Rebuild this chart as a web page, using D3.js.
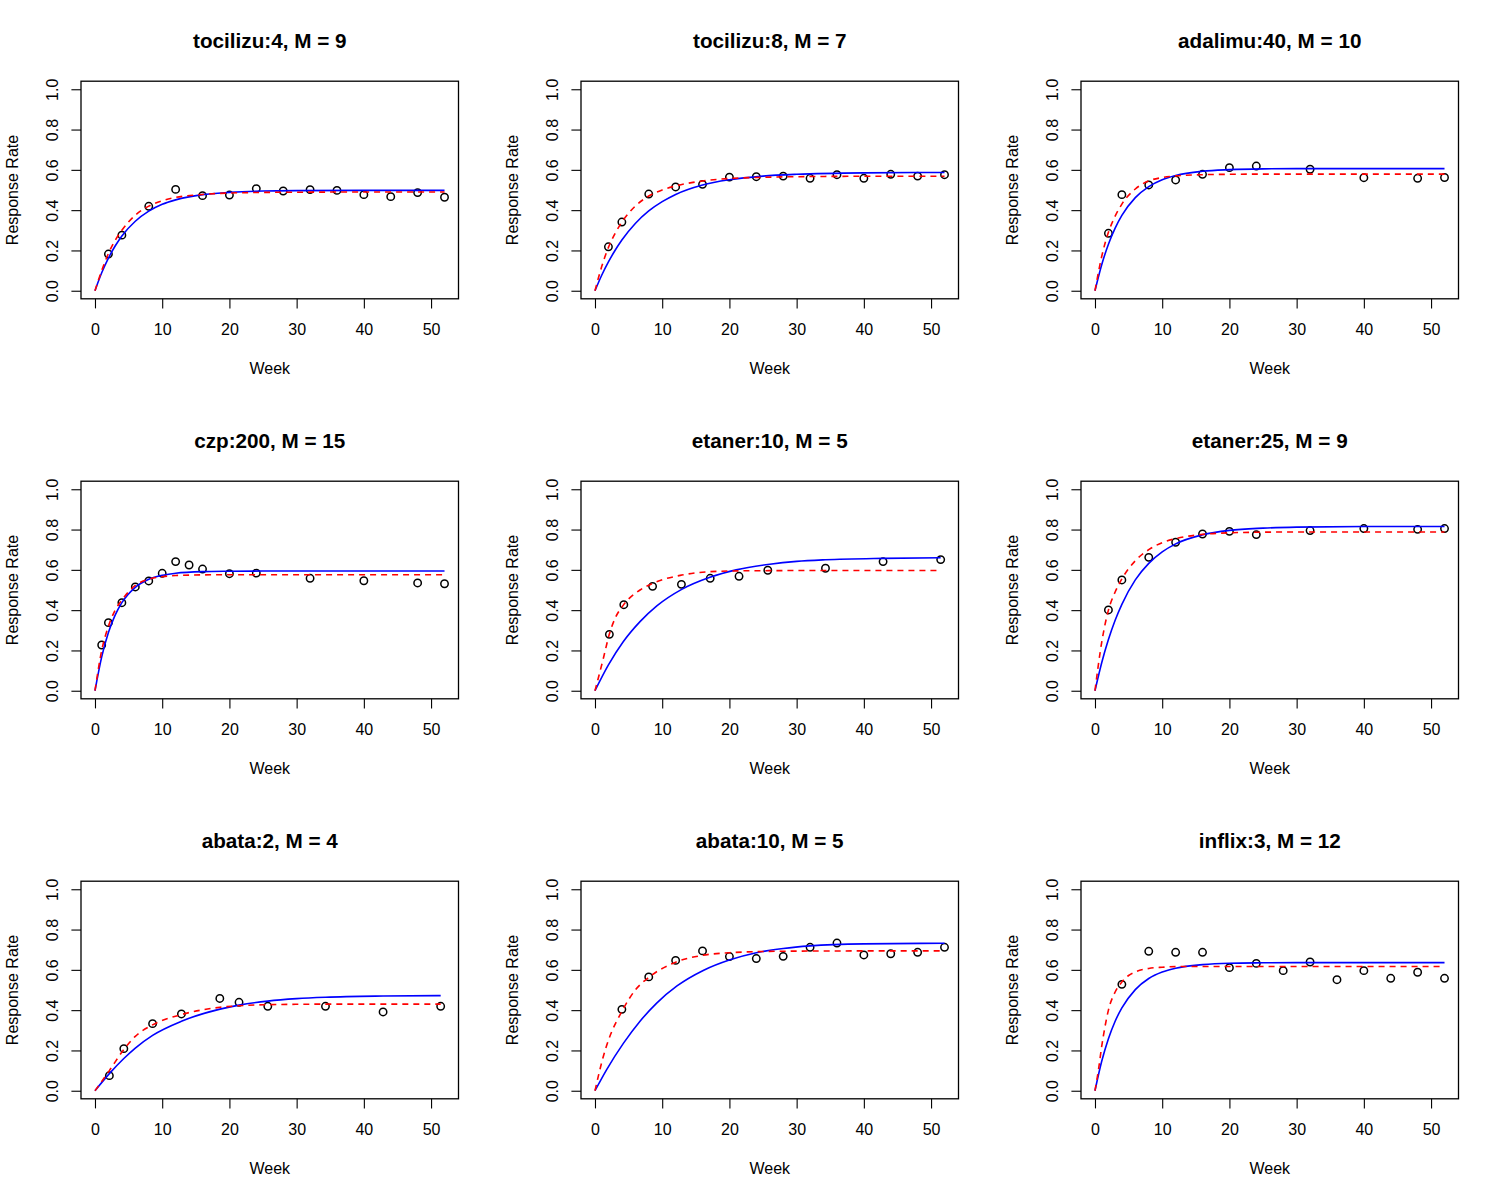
<!DOCTYPE html>
<html>
<head>
<meta charset="utf-8">
<script src="https://cdn.jsdelivr.net/npm/d3@7"></script>
<style>
  html, body { margin: 0; padding: 0; background: #fff; }
  text { font-family: "Liberation Sans", Arial, Helvetica, sans-serif; fill: #000; }
</style>
</head>
<body>
<svg id="chart" width="1500" height="1200"></svg>
<script>
// ---------- DATA ----------
const titles = [
  "tocilizu:4, M = 9", "tocilizu:8, M = 7", "adalimu:40, M = 10",
  "czp:200, M = 15", "etaner:10, M = 5", "etaner:25, M = 9",
  "abata:2, M = 4", "abata:10, M = 5", "inflix:3, M = 12"
];

const xTicks = [0, 10, 20, 30, 40, 50];
const yTicks = [0, 0.2, 0.4, 0.6, 0.8, 1.0];
const xLabel = "Week";
const yLabel = "Response Rate";

// observed response rates
const obsWeeks = [
  [2, 4, 8, 12, 16, 20, 24, 28, 32, 36, 40, 44, 48, 52],
  [2, 4, 8, 12, 16, 20, 24, 28, 32, 36, 40, 44, 48, 52],
  [2, 4, 8, 12, 16, 20, 24, 32, 40, 48, 52],
  [1, 2, 4, 6, 8, 10, 12, 14, 16, 20, 24, 32, 40, 48, 52],
  [2.14, 4.29, 8.57, 12.86, 17.14, 21.43, 25.71, 34.29, 42.86, 51.43],
  [2, 4, 8, 12, 16, 20, 24, 32, 40, 48, 52],
  [2.14, 4.29, 8.57, 12.86, 18.57, 21.43, 25.71, 34.29, 42.86, 51.43],
  [4, 8, 12, 16, 20, 24, 28, 32, 36, 40, 44, 48, 52],
  [4, 8, 12, 16, 20, 24, 28, 32, 36, 40, 44, 48, 52]
];
const obsRates = [
  [0.182, 0.276, 0.419, 0.503, 0.472, 0.475, 0.507, 0.495, 0.502, 0.498, 0.477, 0.467, 0.487, 0.464],
  [0.218, 0.341, 0.480, 0.515, 0.528, 0.564, 0.566, 0.569, 0.558, 0.576, 0.558, 0.578, 0.569, 0.576],
  [0.285, 0.477, 0.525, 0.550, 0.578, 0.611, 0.619, 0.603, 0.561, 0.558, 0.562],
  [0.227, 0.338, 0.437, 0.515, 0.545, 0.583, 0.641, 0.624, 0.604, 0.581, 0.584, 0.558, 0.546, 0.535, 0.531],
  [0.280, 0.427, 0.518, 0.528, 0.558, 0.568, 0.598, 0.608, 0.641, 0.651],
  [0.401, 0.550, 0.662, 0.737, 0.778, 0.791, 0.775, 0.795, 0.805, 0.801, 0.805],
  [0.075, 0.209, 0.333, 0.381, 0.458, 0.439, 0.419, 0.419, 0.391, 0.419],
  [0.404, 0.565, 0.647, 0.694, 0.666, 0.656, 0.667, 0.712, 0.733, 0.674, 0.680, 0.687, 0.712],
  [0.528, 0.692, 0.687, 0.687, 0.611, 0.632, 0.596, 0.639, 0.551, 0.596, 0.558, 0.588, 0.558]
];

// blue (solid) fitted curve
const blueWeeks = [
  [0, 1, 2, 3, 4, 6, 8, 10, 12, 16, 20, 25, 30, 40, 52],
  [0, 1, 2, 3, 4, 6, 8, 10, 12, 16, 20, 25, 30, 40, 52],
  [0, 1, 2, 3, 4, 6, 8, 10, 12, 16, 20, 25, 30, 40, 52],
  [0, 1, 2, 3, 4, 6, 8, 10, 12, 16, 20, 25, 30, 40, 52],
  [0, 2, 4.2, 6.7, 9.2, 12.9, 17.1, 21, 26, 30, 34.3, 42.9, 51.43],
  [0, 1, 2, 3, 4, 6, 8, 10, 12, 16, 20, 25, 30, 40, 52],
  [0, 2.14, 4.29, 6, 8.57, 12.86, 18.6, 21.43, 25.71, 30, 34.29, 42.86, 51.43],
  [0, 1.74, 4.22, 6.7, 9.18, 12.2, 16.1, 20.1, 24, 28, 32, 40, 52],
  [0, 1, 2, 3, 4, 6, 8, 10, 12, 16, 20, 25, 30, 40, 52]
];
const blueRates = [
  [0, 0.089, 0.162, 0.222, 0.272, 0.345, 0.395, 0.429, 0.451, 0.477, 0.488, 0.495, 0.497, 0.498, 0.498],
  [0, 0.077, 0.143, 0.201, 0.252, 0.334, 0.396, 0.442, 0.478, 0.525, 0.551, 0.569, 0.578, 0.585, 0.587],
  [0, 0.129, 0.231, 0.311, 0.374, 0.462, 0.517, 0.551, 0.572, 0.593, 0.601, 0.605, 0.606, 0.606, 0.606],
  [0, 0.168, 0.289, 0.375, 0.437, 0.513, 0.553, 0.573, 0.583, 0.591, 0.593, 0.594, 0.594, 0.594, 0.594],
  [0, 0.128, 0.243, 0.343, 0.421, 0.503, 0.563, 0.600, 0.628, 0.642, 0.650, 0.657, 0.660],
  [0, 0.139, 0.254, 0.350, 0.429, 0.550, 0.632, 0.689, 0.729, 0.774, 0.796, 0.807, 0.812, 0.815, 0.815],
  [0, 0.085, 0.160, 0.212, 0.275, 0.345, 0.405, 0.425, 0.445, 0.457, 0.464, 0.470, 0.472],
  [0, 0.105, 0.235, 0.345, 0.435, 0.520, 0.597, 0.650, 0.685, 0.706, 0.719, 0.729, 0.732],
  [0, 0.146, 0.258, 0.345, 0.411, 0.502, 0.557, 0.589, 0.608, 0.626, 0.633, 0.635, 0.636, 0.636, 0.636]
];

// red (dashed) fitted curve
const redWeeks = [
  [0, 1, 2, 3, 4, 6, 8, 10, 12, 16, 20, 25, 30, 40, 52],
  [0, 1, 2, 3, 4, 6, 8, 10, 12, 16, 20, 25, 30, 40, 52],
  [0, 1, 2, 3, 4, 6, 8, 10, 12, 16, 20, 25, 30, 40, 52],
  [0, 1, 2, 3, 4, 6, 8, 10, 12, 16, 20, 25, 30, 40, 52],
  [0, 1.24, 2.13, 3, 4.22, 6.7, 8.58, 12.9, 17.1, 21.5, 25.9, 34.3, 51.43],
  [0, 1, 2, 3, 4, 6, 8, 10, 12, 16, 20, 25, 30, 40, 52],
  [0, 2.14, 4.29, 6, 8.57, 12.86, 18.6, 21.43, 25.71, 30, 34.29, 42.86, 51.43],
  [0, 1.24, 2, 4.1, 6, 8.1, 12, 16, 20, 25, 30, 40, 52],
  [0, 0.5, 1, 1.5, 2, 3, 4, 5, 6, 8, 10, 12, 16, 20, 30, 40, 52]
];
const redRates = [
  [0, 0.100, 0.185, 0.250, 0.300, 0.375, 0.420, 0.447, 0.463, 0.478, 0.485, 0.488, 0.489, 0.490, 0.490],
  [0, 0.120, 0.215, 0.285, 0.340, 0.420, 0.470, 0.500, 0.520, 0.545, 0.557, 0.563, 0.566, 0.568, 0.568],
  [0, 0.170, 0.290, 0.370, 0.430, 0.505, 0.545, 0.562, 0.570, 0.576, 0.578, 0.579, 0.579, 0.579, 0.579],
  [0, 0.200, 0.320, 0.400, 0.450, 0.523, 0.553, 0.566, 0.572, 0.575, 0.576, 0.576, 0.576, 0.576, 0.576],
  [0, 0.160, 0.280, 0.360, 0.425, 0.500, 0.533, 0.574, 0.591, 0.595, 0.596, 0.597, 0.597],
  [0, 0.240, 0.400, 0.490, 0.555, 0.645, 0.700, 0.735, 0.755, 0.776, 0.784, 0.787, 0.788, 0.788, 0.788],
  [0, 0.100, 0.205, 0.270, 0.327, 0.378, 0.414, 0.422, 0.427, 0.429, 0.430, 0.430, 0.430],
  [0, 0.170, 0.250, 0.400, 0.500, 0.565, 0.638, 0.672, 0.685, 0.691, 0.693, 0.694, 0.694],
  [0, 0.100, 0.220, 0.320, 0.400, 0.490, 0.540, 0.572, 0.590, 0.607, 0.613, 0.616, 0.617, 0.617, 0.617, 0.617, 0.617]
];

// ---------- DRAW ----------
const svg = d3.select("#chart");
svg.append("rect").attr("width", 1500).attr("height", 1200).attr("fill", "#fff");

const PW = 500, PH = 400;
const box = { left: 81, right: 458.5, top: 81.2, bottom: 298.8 };
const x = d3.scaleLinear().domain([-2.08, 54.08]).range([box.left, box.right]);
const y = d3.scaleLinear().domain([-0.04, 1.04]).range([box.bottom, box.top]);
const cx = (box.left + box.right) / 2;
const cy = (box.top + box.bottom) / 2;
const FONT = '"Liberation Sans", Arial, Helvetica, sans-serif';

const line = d3.line()
  .x(d => x(d[0]))
  .y(d => y(d[1]))
  .curve(d3.curveMonotoneX);

titles.forEach((title, i) => {
  const col = i % 3, row = Math.floor(i / 3);
  const g = svg.append("g").attr("transform", `translate(${col * PW},${row * PH})`);

  // x axis
  const xa = g.append("g")
    .attr("transform", `translate(0,${box.bottom})`)
    .call(d3.axisBottom(x).tickValues(xTicks).tickSize(9.6).tickSizeOuter(0).tickFormat(d3.format("d")));
  xa.select(".domain").remove();
  xa.selectAll(".tick line").attr("stroke", "#000").attr("stroke-width", 1.1);
  xa.selectAll(".tick text")
    .attr("y", 36.2).attr("dy", null)
    .attr("font-size", 16).attr("fill", "#000")
    .style("font-family", FONT);
  xa.attr("font-family", null).attr("font-size", null);

  // y axis
  const ya = g.append("g")
    .attr("transform", `translate(${box.left},0)`)
    .call(d3.axisLeft(y).tickValues(yTicks).tickSize(9.6).tickSizeOuter(0).tickFormat(d3.format(".1f")));
  ya.select(".domain").remove();
  ya.selectAll(".tick line").attr("stroke", "#000").attr("stroke-width", 1.1);
  ya.selectAll(".tick text")
    .attr("x", 0).attr("y", 0).attr("dy", null)
    .attr("text-anchor", "middle")
    .attr("transform", `translate(${57.5 - box.left},0) rotate(-90)`)
    .attr("font-size", 16).attr("fill", "#000")
    .style("font-family", FONT);
  ya.attr("font-family", null).attr("font-size", null);

  // observed points
  const pts = obsWeeks[i].map((w, k) => [w, obsRates[i][k]]);
  g.append("g").selectAll("circle").data(pts).join("circle")
    .attr("cx", d => x(d[0]))
    .attr("cy", d => y(d[1]))
    .attr("r", 3.7)
    .attr("fill", "none")
    .attr("stroke", "#000")
    .attr("stroke-width", 1.5);

  // blue fit
  const bl = blueWeeks[i].map((w, k) => [w, blueRates[i][k]]);
  g.append("path").datum(bl)
    .attr("d", line)
    .attr("fill", "none")
    .attr("stroke", "#0000FF")
    .attr("stroke-width", 1.6);

  // red fit
  const rd = redWeeks[i].map((w, k) => [w, redRates[i][k]]);
  g.append("path").datum(rd)
    .attr("d", line)
    .attr("fill", "none")
    .attr("stroke", "#FF0000")
    .attr("stroke-width", 1.6)
    .attr("stroke-dasharray", "6,5");

  // box
  g.append("rect")
    .attr("x", box.left).attr("y", box.top)
    .attr("width", box.right - box.left).attr("height", box.bottom - box.top)
    .attr("fill", "none").attr("stroke", "#000").attr("stroke-width", 1.3);

  // titles / labels
  g.append("text")
    .attr("x", cx).attr("y", 48)
    .attr("text-anchor", "middle")
    .attr("font-size", 20.7).attr("font-weight", "bold")
    .text(title);
  g.append("text")
    .attr("x", cx).attr("y", 374)
    .attr("text-anchor", "middle")
    .attr("font-size", 16)
    .text(xLabel);
  g.append("text")
    .attr("transform", `translate(17.5,${cy}) rotate(-90)`)
    .attr("text-anchor", "middle")
    .attr("font-size", 16)
    .text(yLabel);
});
</script>
</body>
</html>
